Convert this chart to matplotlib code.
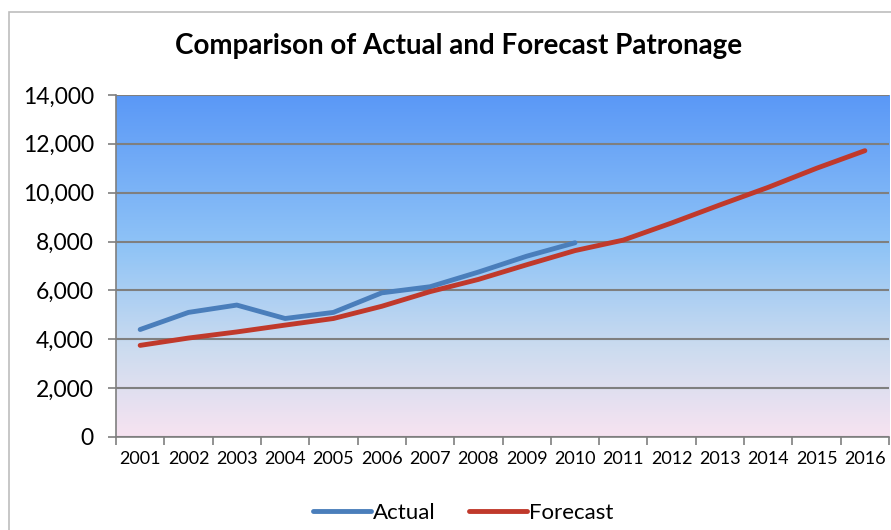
import numpy as np
import matplotlib.pyplot as plt
from matplotlib.colors import LinearSegmentedColormap
from matplotlib.patches import Rectangle
from matplotlib.ticker import FuncFormatter, FixedLocator

plt.rcParams['font.family'] = ['Lato', 'DejaVu Sans']

years = [str(y) for y in range(2001, 2017)]
actual = [4400, 5100, 5400, 4850, 5100, 5900, 6150, 6750, 7400, 7950]
forecast = [3750, 4050, 4300, 4580, 4850, 5350, 5950, 6450, 7050, 7630,
            8060, 8760, 9500, 10220, 11000, 11720]

fig = plt.figure(figsize=(8.91, 5.30), dpi=100)
ax = fig.add_axes([0.1302, 0.1755, 0.8676, 0.6453])

# outer chart border
fig.patches.append(Rectangle((9 / 891, -0.1), 1.1, 1 - 12 / 530 + 0.1,
                             transform=fig.transFigure, fill=False,
                             edgecolor='#bdbdbd', linewidth=1.2))

# plot area gradient (blue at top fading to pale pink)
cmap = LinearSegmentedColormap.from_list(
    'bg', [(0.0, '#f7e3f1'), (0.25, '#cddcef'), (0.55, '#90c4f6'), (1.0, '#5a98f7')])
grad = np.linspace(0, 1, 256).reshape(-1, 1)
ax.imshow(grad, cmap=cmap, aspect='auto', origin='lower',
          extent=[0, 1, 0, 1], transform=ax.transAxes, zorder=0)

x = np.arange(len(years))
ax.plot(x[:len(actual)], actual, color='#4a7ebb', linewidth=3.5,
        solid_capstyle='round', label='Actual', zorder=3)
ax.plot(x, forecast, color='#c0392b', linewidth=3.5,
        solid_capstyle='round', label='Forecast', zorder=3)

ax.set_xlim(-0.5, len(years) - 0.5)
ax.set_ylim(0, 14000)
ax.set_yticks(np.arange(0, 14001, 2000))
ax.yaxis.set_major_formatter(FuncFormatter(lambda v, p: f'{int(v):,}'))
ax.grid(axis='y', color='#7f7f7f', linewidth=1.5, zorder=1)
ax.set_axisbelow(True)

ax.set_xticks(x)
ax.set_xticklabels(years, fontsize=13)
ax.xaxis.set_minor_locator(FixedLocator(np.arange(-0.5, len(years), 1.0)))
ax.tick_params(axis='x', which='major', length=0, pad=10)
ax.tick_params(axis='x', which='minor', length=6, color='#7f7f7f', width=1.2)
ax.tick_params(axis='y', length=6, color='#7f7f7f', width=1.2,
               labelsize=16.5, pad=10)

for side in ['top', 'right']:
    ax.spines[side].set_visible(False)
for side in ['left', 'bottom']:
    ax.spines[side].set_color('#7f7f7f')
    ax.spines[side].set_linewidth(1.2)

fig.text(0.515, 0.913, 'Comparison of Actual and Forecast Patronage',
         ha='center', va='center', fontsize=20, fontweight='bold')

fig.legend(loc='center', bbox_to_anchor=(0.52, 0.032), ncol=2, frameon=False,
           fontsize=16, handlelength=2.6, handletextpad=0.1, columnspacing=1.5)

fig.savefig('out.png', dpi=100)
